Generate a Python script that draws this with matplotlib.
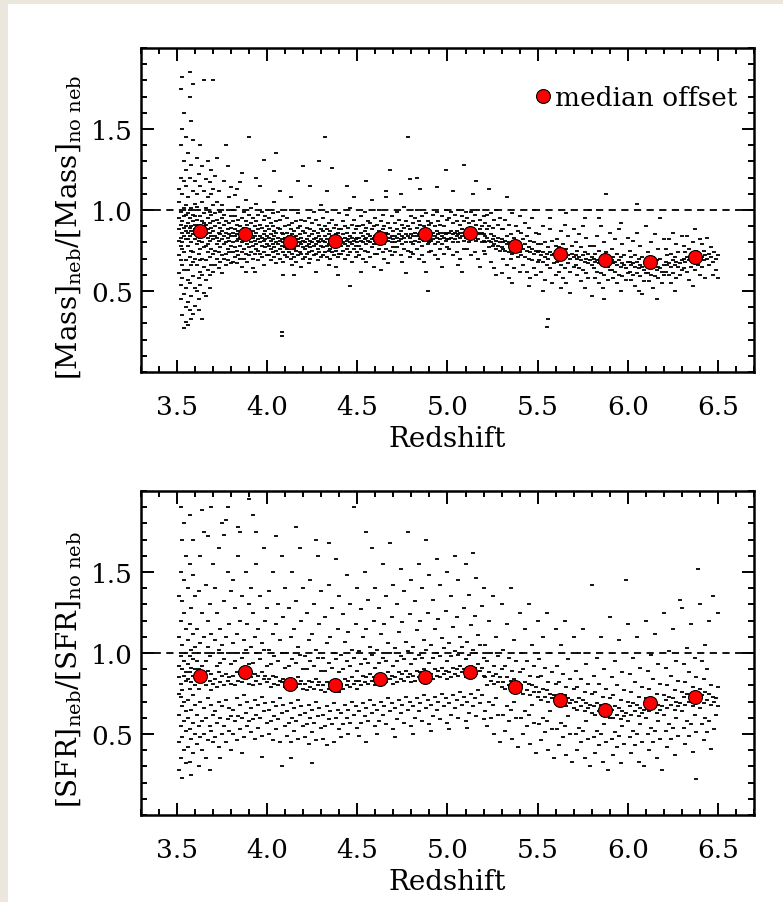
import matplotlib
matplotlib.use("Agg")
import matplotlib.pyplot as plt
from matplotlib.patches import Rectangle
import numpy as np

plt.rcParams['font.family'] = ['DejaVu Serif']
plt.rcParams['mathtext.fontset'] = 'dejavuserif'

# scatter points, token = "z*100/ratio*100"
mass_35_40 = """
351/88 351/95 351/72 351/105 351/61 352/83 352/91 352/120 352/54 352/78 352/99 352/140 352/45 353/86 353/80 353/93 353/110 353/66 353/35 353/150
353/58 354/89 354/74 354/101 354/130 354/48 354/27 354/84 354/96 354/160 355/82 355/90 355/69 355/115 355/40 355/52 355/97 355/31 355/125 355/87
353/76 352/69 351/81 354/63 355/103 352/175 353/182 351/113 354/118 355/145
356/86 356/92 356/78 356/63 356/108 356/43 356/29 356/135 356/98 357/84 357/71 357/95 357/55 357/38 357/120 357/170 357/89 358/90 358/80 358/66
358/101 358/47 358/33 358/128 358/155 358/87 359/85 359/93 359/74 359/59 359/112 359/36 359/97 359/143 360/88 360/82 360/70 360/104 360/52 360/41
360/91 360/118 357/185 359/178 356/82 358/75 360/96 357/100 359/68 356/57
361/87 361/79 361/94 361/66 361/110 361/50 361/132 362/85 362/91 362/73 362/100 362/58 362/122 362/45 363/83 363/89 363/96 363/76 363/62 363/115
363/140 363/54 364/86 364/80 364/93 364/70 364/105 364/60 364/127 365/84 365/90 365/77 365/98 365/65 365/112 365/49 365/180 362/38 364/33 361/102
363/69 365/92 362/81
366/85 366/91 366/78 366/69 366/101 366/57 366/119 367/83 367/88 367/95 367/74 367/63 367/108 367/130 368/86 368/81 368/92 368/71 368/99 368/60
368/117 369/84 369/89 369/76 369/97 369/66 369/110 369/125 370/82 370/87 370/93 370/73 370/103 370/62 370/180 368/52 366/47 370/113 367/79
371/84 371/90 371/75 371/98 371/66 371/121 372/83 372/79 372/94 372/70 372/105 373/86 373/81 373/92 373/74 373/64 373/112 374/85 374/89 374/77
374/99 374/68 375/82 375/87 375/95 375/72 375/103 375/61 376/84 376/79 376/91 376/70 376/97 376/118 377/86 377/80 377/93 377/73 377/66 378/83
378/88 378/76 378/100 378/69 378/127 379/85 379/81 379/92 379/74 379/108 380/84 380/89 380/78 380/96 380/67 380/114 372/132 377/140
381/86 381/80 381/93 381/74 381/100 381/68 382/84 382/88 382/77 382/96 382/71 382/109 383/85 383/81 383/91 383/75 383/67 384/87 384/82 384/94
384/72 384/102 385/83 385/78 385/90 385/70 385/117 386/86 386/80 386/95 386/74 386/65 387/84 387/89 387/76 387/99 387/70 388/82 388/87 388/93
388/73 388/106 389/85 389/79 389/91 389/68 390/84 390/88 390/77 390/97 390/72 390/145 386/123 388/62 383/113
391/85 391/80 391/92 391/74 391/101 392/83 392/87 392/78 392/95 392/70 393/84 393/81 393/90 393/73 393/62 394/86 394/79 394/93 394/76 394/104
395/82 395/88 395/75 395/97 395/69 396/84 396/80 396/91 396/73 396/115 397/83 397/78 397/89 397/71 397/99 398/85 398/81 398/94 398/74 398/66
399/82 399/87 399/77 399/96 400/84 400/79 400/90 400/72 400/100 394/120 398/131 392/64
"""
mass_40_45 = """
401/83 401/78 401/88 401/72 401/95 402/81 402/85 402/76 402/92 402/69 403/82 403/79 403/90 403/74 403/98 404/84 404/77 404/87 404/71 404/105
405/80 405/86 405/75 405/93 405/67 406/83 406/79 406/89 406/73 406/99 407/81 407/76 407/88 407/70 407/94 408/82 408/78 408/86 408/22 408/25
409/80 409/85 409/74 409/96 409/68 410/83 410/77 410/90 410/72 404/124 407/112 409/60 405/135
411/81 411/76 411/86 411/71 411/95 412/80 412/84 412/74 412/91 413/82 413/77 413/88 413/70 413/100 414/79 414/85 414/73 414/92 414/66 415/81
415/76 415/87 415/71 416/80 416/84 416/75 416/93 416/68 417/82 417/78 417/89 417/72 417/98 418/80 418/85 418/74 418/90 419/79 419/83 419/73
419/94 419/65 420/81 420/77 420/87 420/70 417/118 413/108 420/127 415/60
421/80 421/76 421/86 421/71 421/93 422/82 422/78 422/89 422/73 423/79 423/84 423/74 423/95 423/67 424/81 424/77 424/88 424/70 425/80 425/85
425/75 425/92 426/82 426/78 426/87 426/72 426/99 427/79 427/83 427/73 427/94 428/81 428/76 428/86 428/69 429/80 429/84 429/74 429/91 430/82
430/78 430/88 430/71 430/103 427/62 424/115 429/130
431/81 431/77 431/87 431/72 431/95 432/80 432/84 432/74 432/90 433/82 433/78 433/88 433/71 433/99 434/79 434/85 434/75 434/92 434/66 435/81
435/76 435/87 435/70 436/80 436/84 436/74 436/94 437/82 437/78 437/89 437/72 438/80 438/85 438/75 438/91 438/65 439/81 439/77 439/86 439/71
440/82 440/79 440/88 440/73 440/98 433/112 436/126 439/60 432/145
441/82 441/78 441/88 441/73 442/80 442/85 442/75 442/93 443/83 443/79 443/90 443/70 444/81 444/86 444/76 444/97 445/82 445/78 445/89 445/72
446/80 446/84 446/74 446/101 447/83 447/79 447/91 447/68 448/81 448/86 448/76 448/94 449/82 449/78 449/88 449/71 450/83 450/80 450/90 450/74
444/115 448/108 446/53
"""
mass_45_50 = """
451/83 451/78 451/90 451/72 452/81 452/86 452/76 452/96 453/84 453/80 453/91 453/70 454/82 454/87 454/75 454/99 455/83 455/79 455/89 455/68
456/81 456/85 456/74 456/93 457/84 457/80 457/92 457/71 458/82 458/88 458/77 459/83 459/79 459/90 459/65 460/84 460/81 460/95 460/73 455/118
458/106 452/62
461/84 461/79 461/91 461/73 462/82 462/87 462/76 462/100 463/85 463/80 463/93 464/83 464/88 464/74 464/97 465/84 465/79 465/90 465/70 466/82
466/86 466/76 466/112 467/85 467/81 467/92 467/67 468/83 468/89 468/75 469/84 469/80 469/96 469/72 470/82 470/87 470/77 463/63 468/125 466/108
471/84 471/80 471/92 471/74 472/83 472/88 472/77 472/99 473/85 473/81 473/94 474/82 474/87 474/72 475/84 475/79 475/91 475/68 476/83 476/89
476/76 476/102 477/85 477/80 477/93 478/84 478/145 478/75 478/90 479/83 479/88 479/71 480/85 480/80 480/96 480/74 474/110 477/61 479/119
481/84 481/79 481/92 481/73 482/86 482/81 482/95 483/84 483/89 483/76 483/100 484/85 484/80 484/93 484/70 485/86 485/82 485/91 486/84 486/78
486/96 486/72 487/85 487/81 487/90 487/68 488/86 488/83 488/98 489/84 489/79 489/93 489/50 490/85 490/80 490/91 490/74 485/113 488/62 483/120
491/85 491/81 491/92 491/75 492/86 492/82 492/97 493/84 493/79 493/90 493/72 494/87 494/83 494/99 495/85 495/80 495/93 495/70 496/86 496/82
496/91 496/76 497/84 497/79 497/96 498/86 498/83 498/90 498/73 499/85 499/81 499/100 500/86 500/82 500/94 500/77 494/114 497/65 499/125
"""
mass_50_55 = """
501/86 501/82 501/95 501/76 502/87 502/83 502/99 503/85 503/80 503/92 503/72 504/86 504/82 504/97 505/87 505/84 505/93 505/74 506/85 506/80
506/100 507/86 507/83 507/91 507/70 508/88 508/84 508/96 509/86 509/81 509/93 509/76 510/87 510/83 510/99 503/112 506/66 509/128 508/62
511/87 511/83 511/95 511/76 512/85 512/80 512/92 513/88 513/84 513/99 513/72 514/86 514/82 514/93 515/87 515/83 515/97 515/74 516/85 516/81
516/91 517/86 517/82 517/100 517/70 518/88 518/85 518/94 519/86 519/80 519/90 520/85 520/81 520/96 520/75 514/110 518/65 516/118
521/84 521/80 521/92 521/73 522/83 522/88 522/97 523/81 523/77 523/90 524/85 524/80 524/98 524/68 525/82 525/78 525/89 526/84 526/79 526/94
526/64 527/81 527/76 527/100 528/83 528/78 528/91 529/80 529/75 529/95 530/82 530/77 530/88 530/61 527/60 523/113
531/80 531/76 531/88 531/70 532/81 532/75 532/94 533/79 533/84 533/66 534/80 534/74 534/91 534/58 535/78 535/85 535/70 536/79 536/73 536/98
537/77 537/83 537/64 538/80 538/75 538/90 539/78 539/71 539/87 540/79 540/74 540/96 540/62 536/55 533/108
541/78 541/72 541/86 542/76 542/82 542/66 543/79 543/71 543/92 544/75 544/84 544/62 545/77 545/70 545/89 546/74 546/81 546/58 547/76 547/69
547/95 548/73 548/80 548/64 549/75 549/86 549/60 550/74 550/79 550/68 545/53 548/100
"""
mass_55_60 = """
551/75 551/69 551/85 552/72 552/79 552/62 553/74 553/68 553/90 554/71 554/80 554/57 555/73 555/66 555/28 556/70 556/77 556/33 557/74 557/64
557/88 558/72 558/81 558/55 559/73 559/67 560/71 560/78 560/60 553/50 557/95
561/74 561/68 561/82 562/72 562/77 562/62 563/73 563/66 563/87 564/70 564/79 564/58 565/74 565/64 565/91 566/71 566/76 566/55 567/72 567/67
567/84 568/70 568/62 568/49 569/73 569/78 570/71 570/65 570/88 566/98 563/52
571/72 571/66 571/80 572/70 572/75 572/60 573/71 573/64 573/85 574/69 574/77 574/56 575/72 575/63 575/90 576/68 576/74 576/52 577/70 577/61
577/83 578/67 578/73 578/58 579/69 579/78 580/66 580/71 580/47 576/95 579/100
581/70 581/64 581/78 582/68 582/73 582/58 583/69 583/62 583/84 584/67 584/75 584/55 585/70 585/61 585/90 586/66 586/72 586/52 587/68 587/60
587/80 588/67 588/110 588/74 589/65 589/57 590/69 590/63 590/86 584/95 587/45
591/69 591/63 591/76 592/67 592/71 592/58 593/68 593/62 593/82 594/66 594/73 594/55 595/69 595/60 595/88 596/65 596/71 596/50 597/67 597/59
597/79 598/66 598/72 599/64 599/57 600/68 600/61 600/83 596/92
"""
mass_60_65 = """
601/68 601/62 601/75 602/66 602/71 602/57 603/67 603/60 603/81 604/65 604/72 604/53 605/68 605/61 605/86 606/64 606/70 606/50 607/66 607/59
607/78 608/65 608/71 609/63 609/56 610/67 610/61 610/90 605/104 608/48
611/67 611/61 611/74 612/65 612/70 612/56 613/66 613/60 613/80 614/64 614/71 614/52 615/67 615/59 615/85 616/63 616/69 617/65 617/58 617/76
618/64 618/70 619/62 619/55 620/66 620/60 620/82 616/45 618/95
621/68 621/62 621/76 622/66 622/72 623/67 623/60 623/82 624/65 624/73 624/55 625/69 625/61 625/86 626/66 626/71 627/68 627/58 627/79 628/65
628/74 629/67 629/60 630/69 630/63 630/84 626/50
631/70 631/64 631/78 632/68 632/74 633/71 633/62 633/84 634/69 634/76 634/57 635/72 635/65 636/70 636/80 637/71 637/63 637/88 638/69 638/75
639/72 639/66 640/70 640/60 640/82 636/53
641/71 641/65 641/79 642/69 642/75 643/72 643/58 644/70 644/83 645/73 645/66 646/71 646/77 647/68 647/60 648/74 649/70 649/63 650/72 650/58
"""

sfr_35_40 = """
351/85 351/62 351/110 351/45 351/135 351/28 351/92 352/73 352/98 352/55 352/150 352/35 352/81 352/120 353/90 353/67 353/105 353/48 353/170 353/23
353/77 354/86 354/58 354/125 354/40 354/95 354/145 354/70 355/83 355/100 355/52 355/115 355/32 355/160 355/88 355/64 352/190 354/180 351/75 353/132
356/84 356/60 356/108 356/42 356/140 356/93 356/71 357/88 357/53 357/118 357/33 357/98 357/78 357/155 358/82 358/65 358/102 358/47 358/128 358/25
358/91 359/86 359/57 359/112 359/38 359/96 359/74 359/170 360/80 360/68 360/104 360/50 360/135 360/90 357/185 359/148
361/85 361/62 361/115 361/44 361/95 362/78 362/100 362/55 362/138 362/30 363/88 363/70 363/106 363/48 363/160 364/82 364/58 364/125 364/92 364/40
365/86 365/66 365/110 365/50 365/175 366/80 366/95 366/60 366/142 366/35 367/89 367/72 367/104 367/46 367/120 368/83 368/55 368/98 368/130 368/28
369/87 369/68 369/112 369/52 369/190 370/81 370/62 370/100 370/45 370/155 364/188 367/172 362/90 369/77
371/84 371/64 371/108 371/48 371/140 372/79 372/92 372/57 372/125 373/88 373/70 373/102 373/42 373/165 374/82 374/60 374/115 374/94 375/86 375/67
375/105 375/50 375/180 376/80 376/96 376/55 376/132 377/87 377/71 377/110 377/45 377/182 378/83 378/59 378/100 378/150 379/85 379/66 379/118 379/52
380/81 380/93 380/61 380/138 380/40 376/173 378/190 374/35
381/86 381/65 381/106 381/50 381/145 382/80 382/95 382/58 382/128 383/88 383/72 383/112 383/46 384/83 384/61 384/100 384/160 385/87 385/68 385/120
385/53 385/175 386/82 386/97 386/60 386/135 387/89 387/74 387/108 387/48 388/84 388/63 388/102 388/150 389/86 389/70 389/118 389/55 390/81 390/93
390/58 390/130 390/195 386/38 384/178
391/85 391/66 391/104 391/51 391/140 392/80 392/94 392/59 392/125 393/87 393/71 393/110 393/47 394/83 394/62 394/100 394/155 395/86 395/68 395/115
395/54 396/81 396/96 396/60 396/135 397/88 397/73 397/106 397/49 398/84 398/64 398/102 398/165 399/86 399/69 399/120 400/82 400/92 400/57 400/128
394/175 397/36 392/185
"""
sfr_40_45 = """
401/84 401/65 401/102 401/50 401/138 402/79 402/93 402/58 403/86 403/70 403/112 403/46 403/150 404/81 404/61 404/98 405/85 405/67 405/118 405/53
406/80 406/95 406/59 406/130 407/83 407/72 407/108 407/45 408/82 408/63 408/100 408/160 409/84 409/68 409/122 410/79 410/91 410/55 410/140 405/172
408/30
411/82 411/64 411/100 411/49 412/78 412/92 412/57 412/128 413/84 413/69 413/110 413/45 414/80 414/60 414/96 414/150 415/83 415/66 415/115 415/52
416/79 416/94 416/58 416/132 417/85 417/71 417/104 417/47 418/81 418/62 418/99 418/165 419/83 419/67 419/120 420/78 420/90 420/55 420/140 416/178
413/35
421/81 421/63 421/98 421/48 422/77 422/90 422/56 422/125 423/83 423/68 423/108 423/44 424/79 424/60 424/95 424/145 425/82 425/65 425/112 425/51
426/78 426/92 426/57 426/130 427/84 427/70 427/102 427/46 428/80 428/61 428/97 428/160 429/82 429/66 429/118 430/77 430/89 430/54 430/138 427/170
425/32
431/80 431/62 431/97 431/47 432/76 432/89 432/55 432/122 433/82 433/67 433/106 433/43 434/78 434/59 434/94 434/142 435/81 435/64 435/110 436/77
436/91 436/56 436/128 437/83 437/69 437/100 437/45 438/79 438/60 438/96 438/158 439/81 439/65 439/115 440/76 440/88 440/53 440/135 434/168
441/81 441/63 441/99 441/48 442/78 442/90 442/56 442/124 443/84 443/68 443/107 444/80 444/60 444/95 444/148 445/83 445/65 445/113 445/50 446/79
446/92 446/57 446/130 447/85 447/70 447/102 448/81 448/62 448/97 448/190 449/83 449/67 449/118 450/78 450/89 450/54 450/140
"""
sfr_45_50 = """
451/83 451/64 451/101 451/49 452/80 452/93 452/57 452/127 453/86 453/69 453/110 454/82 454/61 454/96 454/150 455/85 455/66 455/115 455/45 456/81
456/94 456/58 456/133 457/87 457/71 457/104 458/83 458/63 458/99 458/165 459/85 459/68 459/120 460/80 460/91 460/55 460/140 455/175
461/84 461/65 461/102 461/50 462/81 462/94 462/58 462/128 463/87 463/70 463/112 464/83 464/62 464/97 464/155 465/86 465/67 465/118 466/82 466/95
466/56 466/135 467/88 467/72 467/106 468/84 468/64 468/100 468/168 469/86 469/69 469/122 470/81 470/92 470/53 470/142
471/85 471/66 471/103 471/48 472/82 472/95 472/59 472/130 473/88 473/71 473/113 474/84 474/63 474/98 474/152 475/87 475/68 475/119 476/83 476/96
476/57 476/138 477/89 477/73 477/107 478/85 478/65 478/101 478/175 479/87 479/70 479/124 480/82 480/93 480/55 480/145
481/86 481/67 481/104 481/50 482/83 482/96 482/60 482/132 483/89 483/72 483/114 484/85 484/64 484/99 484/155 485/88 485/69 485/120 486/84 486/97
486/58 486/140 487/90 487/74 487/108 488/86 488/66 488/102 488/170 489/88 489/71 489/125 490/83 490/94 490/56 490/148
491/87 491/68 491/105 491/52 492/84 492/97 492/61 492/133 493/90 493/73 493/115 494/86 494/65 494/100 494/158 495/89 495/70 495/121 496/85 496/98
496/59 496/142 497/91 497/75 497/109 498/87 498/67 498/103 499/89 499/72 499/126 500/84 500/95 500/57 500/150
"""
sfr_50_55 = """
501/88 501/69 501/106 501/53 502/85 502/98 502/62 502/135 503/91 503/74 503/116 504/87 504/66 504/101 504/160 505/90 505/71 505/122 506/86 506/99
506/60 506/145 507/92 507/76 507/110 508/88 508/68 508/104 509/90 509/73 509/128 510/85 510/96 510/58 510/155
511/89 511/70 511/107 511/54 512/86 512/99 512/63 512/136 513/92 513/75 513/117 514/88 514/67 514/102 514/162 515/91 515/72 515/123 516/87 516/100
516/61 516/146 517/93 517/77 517/111 518/89 518/69 518/105 519/91 519/74 519/129 520/86 520/97 520/59 520/140
521/85 521/64 521/105 522/80 522/95 522/55 523/88 523/70 523/120 524/83 524/60 524/100 525/86 525/68 525/135 526/81 526/92 526/50 527/87 527/72
527/110 528/82 528/62 528/98 529/85 529/45 530/79 530/90 530/130
531/82 531/62 531/102 532/78 532/92 532/52 533/85 533/67 533/118 534/80 534/58 534/97 535/83 535/65 535/140 536/77 536/89 536/47 537/84 537/70
537/108 538/79 538/60 538/95 539/82 539/42 540/76 540/88 540/125
541/80 541/60 541/100 542/75 542/90 542/50 543/82 543/64 543/115 544/77 544/55 544/95 545/81 545/62 545/130 546/74 546/86 546/44 547/80 547/68
547/105 548/76 548/57 548/92 549/79 549/38 550/73 550/85 550/120
"""
sfr_55_60 = """
551/76 551/56 551/96 552/71 552/86 552/46 553/78 553/60 553/110 554/73 554/51 554/91 555/77 555/58 555/125 556/70 556/82 556/40 557/75 557/64
557/100 558/72 558/53 558/88 559/74 559/35 560/69 560/81 560/115
561/73 561/53 561/92 562/68 562/82 562/43 563/75 563/57 563/105 564/70 564/48 564/87 565/74 565/55 565/120 566/67 566/79 566/37 567/72 567/61
567/96 568/69 568/50 568/84 569/71 569/33 570/66 570/78 570/110
571/70 571/50 571/89 572/65 572/79 572/40 573/72 573/54 573/100 574/67 574/45 574/84 575/71 575/52 575/115 576/64 576/76 576/35 577/69 577/58
577/93 578/66 578/47 578/81 579/68 579/30 580/63 580/75 580/142
581/67 581/48 581/86 582/62 582/76 582/38 583/69 583/52 583/97 584/64 584/43 584/81 585/68 585/50 585/110 586/61 586/73 586/33 587/66 587/56
587/90 588/63 588/45 588/78 589/65 589/28 590/60 590/72 590/122
591/65 591/47 591/85 592/60 592/74 592/37 593/67 593/51 593/95 594/62 594/42 594/80 595/66 595/49 595/108 596/59 596/71 596/32 597/64 597/55
597/88 598/61 598/44 598/77 599/63 599/145 600/58 600/70 600/118
"""
sfr_60_65 = """
601/67 601/48 601/87 602/62 602/76 602/38 603/69 603/52 603/97 604/64 604/43 604/82 605/68 605/50 605/110 606/61 606/73 606/33 607/66 607/56
607/91 608/63 608/45 608/79 609/65 609/30 610/60 610/72 610/120
611/69 611/50 611/89 612/64 612/78 612/40 613/71 613/54 613/99 614/66 614/45 614/84 615/70 615/52 615/112 616/63 616/75 616/35 617/68 617/58
617/93 618/65 618/47 618/81 619/67 619/28 620/62 620/74 620/125
621/71 621/52 621/91 622/66 622/80 622/42 623/73 623/56 623/101 624/68 624/47 624/86 625/72 625/54 625/115 626/65 626/77 626/37 627/70 627/60
627/95 628/67 628/49 628/83 629/69 629/133 630/64 630/76 630/128
631/73 631/54 631/93 632/68 632/82 632/44 633/75 633/58 633/103 634/70 634/49 634/88 635/74 635/56 635/118 636/67 636/79 636/39 637/72 637/62
637/97 638/69 638/51 638/85 639/71 639/152 640/66 640/78 640/130 638/22
641/74 641/56 641/95 642/69 642/84 642/46 643/76 643/60 643/105 644/71 644/51 644/90 645/75 645/58 645/120 646/68 646/80 646/41 647/73 647/135
648/70 648/53 649/72 649/62 650/67 650/79 650/125
"""

# median offsets per redshift bin
bin_z = [3.625, 3.875, 4.125, 4.375, 4.625, 4.875, 5.125, 5.375, 5.625, 5.875, 6.125, 6.375]
mass_median = [0.87, 0.85, 0.80, 0.81, 0.83, 0.85, 0.86, 0.78, 0.73, 0.69, 0.68, 0.71]
sfr_median = [0.86, 0.88, 0.81, 0.80, 0.84, 0.85, 0.88, 0.79, 0.71, 0.65, 0.69, 0.73]

xticks = [3.5, 4.0, 4.5, 5.0, 5.5, 6.0, 6.5]
yticks = [0.5, 1.0, 1.5]


def unpack(*chunks):
    z, y = [], []
    for s in chunks:
        for tok in s.split():
            a, b = tok.split('/')
            z.append(int(a) / 100.)
            y.append(int(b) / 100.)
    return np.array(z), np.array(y)


mass_z, mass_r = unpack(mass_35_40, mass_40_45, mass_45_50, mass_50_55, mass_55_60, mass_60_65)
sfr_z, sfr_r = unpack(sfr_35_40, sfr_40_45, sfr_45_50, sfr_50_55, sfr_55_60, sfr_60_65)

fig = plt.figure(figsize=(7.83, 9.03), dpi=100, facecolor='#ebe7dc')
fig.patches.append(Rectangle((8 / 783., 0), 1, 1 - 5 / 903., transform=fig.transFigure,
                             facecolor='white', edgecolor='none', zorder=-1))

ax1 = fig.add_axes([141 / 783., 1 - 373 / 903., 613 / 783., 324 / 903.])
ax2 = fig.add_axes([141 / 783., 1 - 816 / 903., 613 / 783., 324 / 903.])

panels = [(ax1, mass_z, mass_r, mass_median, r'$[\mathrm{Mass}]_{\mathrm{neb}}/[\mathrm{Mass}]_{\mathrm{no\ neb}}$'),
          (ax2, sfr_z, sfr_r, sfr_median, r'$[\mathrm{SFR}]_{\mathrm{neb}}/[\mathrm{SFR}]_{\mathrm{no\ neb}}$')]

for ax, z, r, med, ylab in panels:
    ax.plot(z, r, ls='none', marker='_', ms=2.6, mew=1.3, color='k', zorder=2)
    ax.axhline(1.0, color='k', lw=1.3, dashes=(4, 3), zorder=3)
    ax.plot(bin_z, med, ls='none', marker='o', ms=10, mfc='#ff0000', mec='k', mew=0.8,
            zorder=4, label='median offset')
    ax.set_xlim(3.3, 6.7)
    ax.set_ylim(0.0, 2.0)
    ax.set_xticks(xticks)
    ax.set_xticks(np.arange(3.3, 6.71, 0.1), minor=True)
    ax.set_yticks(yticks)
    ax.set_yticks(np.arange(0.0, 2.01, 0.1), minor=True)
    ax.set_xticklabels(['%.1f' % t for t in xticks])
    ax.set_yticklabels(['%.1f' % t for t in yticks])
    ax.tick_params(which='both', direction='in', top=True, right=True, width=1.4, labelsize=19)
    ax.tick_params(which='major', length=9)
    ax.tick_params(which='minor', length=4.5)
    ax.tick_params(axis='x', pad=16)
    ax.tick_params(axis='y', pad=6)
    for sp in ax.spines.values():
        sp.set_linewidth(1.8)
    ax.set_xlabel('Redshift', fontsize=20)
    ax.xaxis.set_label_coords(0.5, -0.165)
    ax.set_ylabel(ylab, fontsize=20)
    ax.yaxis.set_label_coords(-0.095, 0.45)

ax1.legend(loc='center right', bbox_to_anchor=(0.972, 0.846), frameon=False, fontsize=19,
           handlelength=0.6, handletextpad=0.15, borderpad=0, borderaxespad=0, numpoints=1)

fig.savefig('out.png', dpi=100, facecolor=fig.get_facecolor())
